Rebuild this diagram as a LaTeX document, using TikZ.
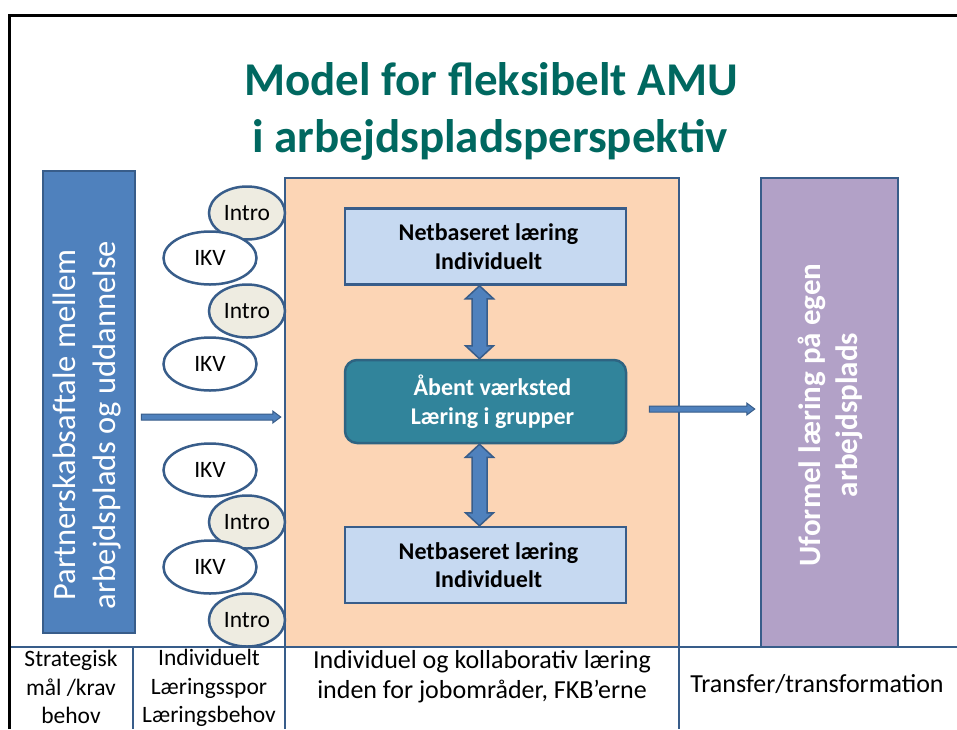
\documentclass[tikz,border=0pt]{standalone}
\usepackage{fontspec}
\setmainfont{Carlito}
\usetikzlibrary{calc,shapes.geometric}
\definecolor{titlecol}{RGB}{0,104,96}
\definecolor{bordercol}{RGB}{56,93,138}
\definecolor{bluefill}{RGB}{79,129,189}
\definecolor{orangefill}{RGB}{252,213,181}
\definecolor{purplefill}{RGB}{178,161,199}
\definecolor{lightbluefill}{RGB}{198,217,241}
\definecolor{tealfill}{RGB}{49,132,155}
\definecolor{tealborder}{RGB}{46,100,130}
\definecolor{beigefill}{RGB}{238,236,225}
\newcommand\vdarrow[2]{\draw[blockarrow] let \p1=#1, \p2=#2 in
  (\x1,\y1) -- (\x1+14pt,\y1-13pt) -- (\x1+7.5pt,\y1-13pt) -- (\x1+7.5pt,\y2+13pt) -- (\x1+14pt,\y2+13pt)
  -- (\x1,\y2) -- (\x1-14pt,\y2+13pt) -- (\x1-7.5pt,\y2+13pt) -- (\x1-7.5pt,\y1-13pt) -- (\x1-14pt,\y1-13pt) -- cycle;}
\newcommand\hblockarrow[2]{\draw[hblock] let \p1=#1, \p2=#2 in
  (\x1,\y1+3pt) -- (\x2-8pt,\y1+3pt) -- (\x2-8pt,\y1+6pt) -- (\x2,\y1) -- (\x2-8pt,\y1-6pt) -- (\x2-8pt,\y1-3pt) -- (\x1,\y1-3pt) -- cycle;}
\begin{document}
\begin{tikzpicture}[x=1pt,y=-1pt,
  box/.style={rectangle, draw=bordercol, line width=2.5pt, inner sep=0pt},
  titlestyle/.style={text=titlecol, font=\bfseries\fontsize{47}{57}\selectfont, inner sep=0pt},
  ell/.style={ellipse, draw=bordercol, line width=2.5pt, inner sep=0pt, minimum height=53pt, font=\fontsize{23.5}{27}\selectfont},
  ikv/.style={ell, fill=white, minimum width=93pt},
  intro/.style={ell, fill=beigefill, minimum width=76pt},
  netbox/.style={box, fill=lightbluefill, minimum width=281pt, minimum height=76pt, align=center, font=\bfseries\fontsize{24}{28.5}\selectfont},
  blockarrow/.style={fill=bluefill, draw=bordercol, line width=1.5pt, line join=miter},
  hblock/.style={fill=bluefill, draw=bordercol, line width=1pt, line join=miter},
  tabline/.style={draw=bordercol, line width=2.5pt},
  celltext/.style={align=center, inner sep=0pt, font=\fontsize{23.5}{28.5}\selectfont},
  bigcell/.style={align=center, inner sep=0pt, font=\fontsize{26}{30}\selectfont}
]
\useasboundingbox (0,0) rectangle (957,729);
\fill[white] (0,0) rectangle (957,729);

% frame
\draw[line width=3pt] (9,729) -- (9,15) -- (957,15);

% title
\node[titlestyle, anchor=base] (title1) at (491,95) {Model for fleksibelt AMU};
\node[titlestyle, anchor=base] (title2) at (490,152) {i arbejdspladsperspektiv};

% main boxes
\node[box, fill=orangefill, minimum width=394pt, minimum height=469pt] (orange) at (482,412.5) {};
\node[box, fill=bluefill, minimum width=92pt, minimum height=462pt] (partner) at (89,402) {};
\node[rotate=90, align=center, text=white, inner sep=0pt, font=\fontsize{32.5}{40}\selectfont] (partnertxt) at (87,425) {Partnerskabsaftale mellem\\arbejdsplads og uddannelse};
\node[box, fill=purplefill, minimum width=137pt, minimum height=469pt] (purple) at (829.5,412.5) {};
\node[rotate=90, align=center, text=white, inner sep=0pt, font=\bfseries\fontsize{31}{37}\selectfont] (purpletxt) at (830,415) {Uformel læring på egen\\arbejdsplads};

% inner boxes
\node[netbox] (net1) at (485.5,246.5) {\hspace*{6pt}Netbaseret læring\\\hspace*{6pt}Individuelt};
\node[box, rounded corners=12pt, fill=tealfill, draw=tealborder, minimum width=281pt, minimum height=83pt, align=center, text=white, font=\bfseries\fontsize{24}{28.5}\selectfont] (teal) at (485.5,401.5) {\hspace*{14pt}Åbent værksted\\\hspace*{14pt}Læring i grupper};
\node[netbox] (net2) at (485.5,565) {\hspace*{6pt}Netbaseret læring\\\hspace*{6pt}Individuelt};

% double arrows
\vdarrow{($(net1.south)+(-6,0)$)}{($(teal.north)+(-6,0)$)}
\vdarrow{($(teal.south)+(-6,0)$)}{($(net2.north)+(-6,0)$)}

% horizontal arrows
\hblockarrow{($(partner.east)+(5,15)$)}{($(orange.west)+(-3,4.5)$)}
\hblockarrow{($(teal.east)+(22,7.5)$)}{($(purple.west)+(-5,0)$)}

% ellipses
\node[intro] (intro1) at (247,213) {Intro};
\node[ikv] (ikv1) at (210,258) {IKV};
\node[intro] (intro2) at (247,311) {Intro};
\node[ikv] (ikv2) at (210,364) {IKV};
\node[ikv] (ikv3) at (210,470) {IKV};
\node[intro] (intro3) at (247,522) {Intro};
\node[ikv] (ikv4) at (210,567) {IKV};
\node[intro] (intro4) at (247,620) {Intro};

% table
\draw[tabline] (9,647) -- (957,647);
\draw[tabline] (133,647) -- (133,729);
\draw[tabline] (285,647) -- (285,729);
\draw[tabline] (679,647) -- (679,729);
\draw[line width=3pt] (9,640) -- (9,729);

\node[celltext] (cell1) at (71,687) {Strategisk\\mål /krav\\behov};
\node[celltext] (cell2) at (209,688) {Individuelt\\Læringsspor\\Læringsbehov};
\node[bigcell] (cell3) at (482,677) {Individuel og kollaborativ læring\\inden for jobområder, FKB’erne};
\node[bigcell] (cell4) at (817,684) {Transfer/transformation};
\end{tikzpicture}
\end{document}
